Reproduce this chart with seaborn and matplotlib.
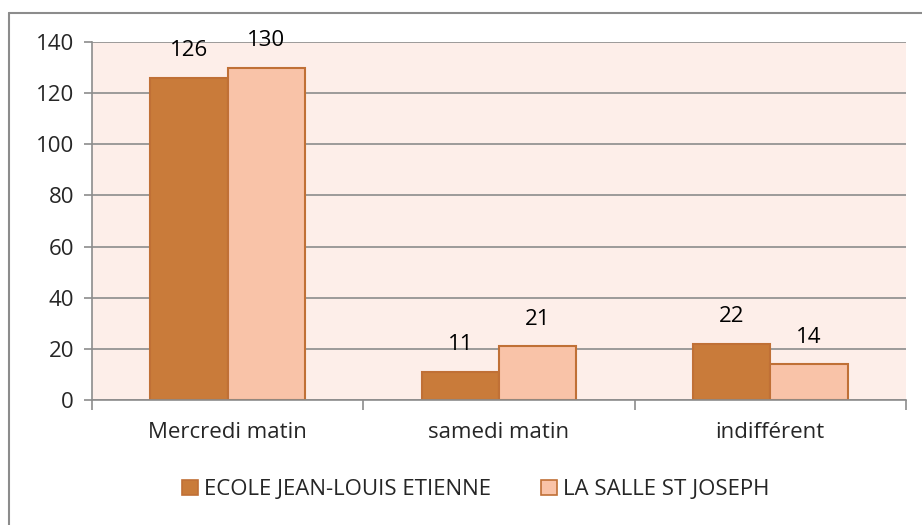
import pandas as pd
import matplotlib.pyplot as plt
import seaborn as sns
from matplotlib.lines import Line2D
from matplotlib.patches import Patch

categories = ['Mercredi matin', 'samedi matin', 'indifférent']
ecole_jle = [126, 11, 22]
la_salle = [130, 21, 14]
series_names = ['ECOLE JEAN-LOUIS ETIENNE', 'LA SALLE ST JOSEPH']
y_ticks = [0, 20, 40, 60, 80, 100, 120, 140]

df = pd.DataFrame({
    'categorie': categories * 2,
    'valeur': ecole_jle + la_salle,
    'ecole': [series_names[0]] * 3 + [series_names[1]] * 3,
})

sns.set_style('white')
plt.rcParams['font.family'] = ['Open Sans', 'DejaVu Sans']
fs = 16

dark = '#C97B3A'
light = '#F9C3A8'
edge = '#C07036'
grid_col = '#8C8C8C'

fig = plt.figure(figsize=(9.22, 5.25), dpi=100)
ax = fig.add_axes([92 / 922, 125 / 525, 814 / 922, 358 / 525])
ax.set_facecolor('#FDEEE9')

sns.barplot(data=df, x='categorie', y='valeur', hue='ecole', order=categories,
            hue_order=series_names, palette=[dark, light], width=0.57,
            edgecolor=edge, linewidth=1.5, saturation=1, legend=False, ax=ax)

# étiquettes de valeurs au-dessus des barres
for cont in ax.containers:
    for bar in cont:
        h = bar.get_height()
        ax.annotate(f'{h:.0f}', (bar.get_x() + bar.get_width() / 2, h),
                    xytext=(0, 27), textcoords='offset pixels',
                    ha='center', va='center', fontsize=fs, color='black')

ax.set_xlim(-0.5, 2.5)
ax.set_ylim(0, 140)
ax.set_yticks(y_ticks)
ax.yaxis.grid(True, color=grid_col, linewidth=1.2)
ax.set_axisbelow(True)
ax.set_xlabel('')
ax.set_ylabel('')

for side in ['top', 'right']:
    ax.spines[side].set_visible(False)
for side in ['left', 'bottom']:
    ax.spines[side].set_color(grid_col)
    ax.spines[side].set_linewidth(1.2)

ax.tick_params(axis='y', left=True, length=6, width=1.2, color=grid_col,
               labelsize=fs, pad=7)
ax.set_xticks([0, 1, 2])
ax.set_xticklabels(categories, fontsize=fs)
ax.tick_params(axis='x', bottom=False, pad=12)
ax.set_xticks([-0.5, 0.5, 1.5, 2.5], minor=True)
ax.tick_params(axis='x', which='minor', bottom=True, length=7, width=1.2,
               color=grid_col, direction='out')

handles = [Patch(facecolor=dark, edgecolor=edge, linewidth=1.2),
           Patch(facecolor=light, edgecolor=edge, linewidth=1.2)]
fig.legend(handles, series_names, loc='center', bbox_to_anchor=(0.516, 0.067),
           ncol=2, frameon=False, fontsize=fs, handlelength=0.72,
           handleheight=0.72, handletextpad=0.27, columnspacing=2.25)

# cadre extérieur (gauche et haut)
fig.add_artist(Line2D([9 / 922, 9 / 922], [0, 1 - 13 / 525], color=grid_col,
                      linewidth=1.5, transform=fig.transFigure))
fig.add_artist(Line2D([9 / 922, 1], [1 - 13 / 525, 1 - 13 / 525], color=grid_col,
                      linewidth=1.5, transform=fig.transFigure))

fig.savefig('out.png', dpi=100)
